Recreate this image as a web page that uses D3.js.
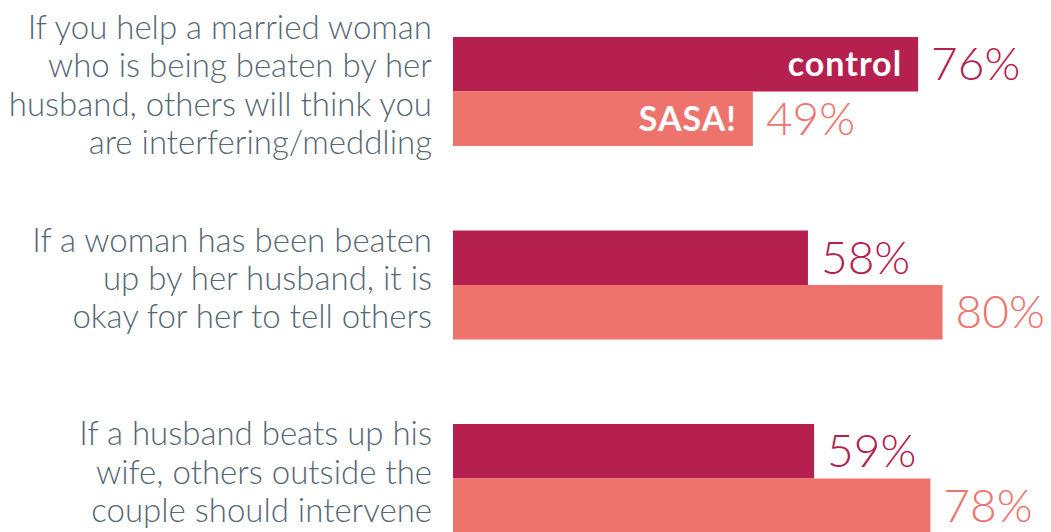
<!DOCTYPE html>
<html>
<head>
<meta charset="utf-8">
<script src="https://cdn.jsdelivr.net/npm/d3@7"></script>
<style>
  html, body { margin: 0; padding: 0; background: #ffffff; }
  svg { display: block; }
</style>
</head>
<body>
<svg id="chart"></svg>
<script>
// data
const questions = [
  ["If you help a married woman", "who is being beaten by her", "husband, others will think you", "are interfering/meddling"],
  ["If a woman has been beaten", "up by her husband, it is", "okay for her to tell others"],
  ["If a husband beats up his", "wife, others outside the", "couple should intervene"]
];
const groups = ["control", "SASA!"];
const controlValues = [76, 58, 59];
const sasaValues = [49, 80, 78];

const width = 1051;
const height = 532;

const svg = d3.select("#chart")
  .attr("width", width)
  .attr("height", height)
  .style("font-family", "Lato, 'Open Sans', sans-serif");

const colors = { "control": "#b5204f", "SASA!": "#ef736d" };
const textColor = "#566874";

const x = d3.scaleLinear().domain([0, 100]).range([453, 1065]);

// one band per question
const y = d3.scaleBand()
  .domain(d3.range(questions.length))
  .range([37, 37 + 193.5 * 3])
  .paddingInner(0);

const barH = 54.5;

questions.forEach((lines, i) => {
  const top = y(i);
  const rows = [
    { key: groups[0], value: controlValues[i], y0: top },
    { key: groups[1], value: sasaValues[i], y0: top + barH }
  ];

  const g = svg.append("g");

  g.selectAll("rect")
    .data(rows)
    .join("rect")
    .attr("x", x(0))
    .attr("y", d => d.y0)
    .attr("width", d => x(d.value) - x(0))
    .attr("height", barH)
    .attr("fill", d => colors[d.key]);

  // value labels
  g.selectAll("text.val")
    .data(rows)
    .join("text")
    .attr("class", "val")
    .attr("x", d => x(d.value) + 13)
    .attr("y", d => d.y0 + barH / 2 + 16)
    .attr("fill", d => colors[d.key])
    .attr("font-size", "46px")
    .attr("font-weight", 300)
    .text(d => d.value + "%");

  // series names inside first group bars
  if (i === 0) {
    g.selectAll("text.key")
      .data(rows)
      .join("text")
      .attr("class", "key")
      .attr("x", d => x(d.value) - 16)
      .attr("y", d => d.y0 + barH / 2 + 12)
      .attr("text-anchor", "end")
      .attr("fill", "#ffffff")
      .attr("font-size", "34px")
      .attr("font-weight", 700)
      .attr("letter-spacing", "1px")
      .text(d => d.key);
  }

  // question label, centred on the pair of bars
  const mid = top + barH - 6;
  const lh = 38.2;
  g.append("text")
    .attr("text-anchor", "end")
    .attr("fill", textColor)
    .attr("font-size", "33px")
    .attr("font-weight", 300)
    .selectAll("tspan")
    .data(lines)
    .join("tspan")
    .attr("x", 432)
    .attr("y", (d, j) => mid + (j - (lines.length - 1) / 2) * lh + 11)
    .text(d => d);
});
</script>
</body>
</html>
